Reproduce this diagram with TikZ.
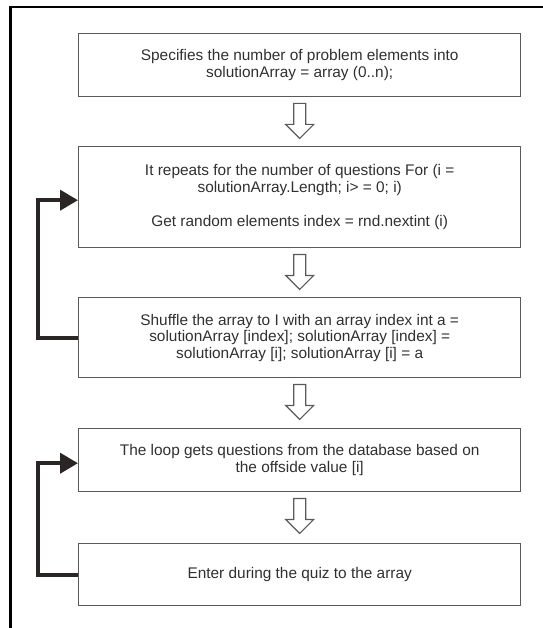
\documentclass[tikz,border=0pt]{standalone}
\usepackage{fontspec}
\setmainfont{Liberation Sans}
\usetikzlibrary{arrows.meta,calc}
\definecolor{boxline}{HTML}{5A5A5A}
\definecolor{txt}{HTML}{303030}
\definecolor{loopc}{HTML}{2B2626}
\begin{document}
\begin{tikzpicture}[x=1bp,y=-1bp,
  box/.style={draw=boxline, line width=1.4bp, rectangle, minimum width=442bp,
    anchor=north west, align=center, text=txt, inner sep=0pt,
    font=\fontsize{15.4bp}{16.6bp}\selectfont},
  harr/.style={draw=boxline, line width=1.2bp, fill=white, line join=miter},
  loopline/.style={draw=loopc, line width=4bp, line join=miter,
    -{Triangle[length=18bp,width=20bp]}},
  frame/.style={draw=black, line width=2.5bp}]
\useasboundingbox (0,0) rectangle (543,628);
\draw[frame] (10.5,628) -- (10.5,7) -- (543,7);

\node[box, minimum height=63bp] (b1) at (78,33)
  {Specifies the number of problem elements into\\ solutionArray = array (0..n);};
\node[box, minimum height=101bp] (b2) at (78,146)
  {It repeats for the number of questions For (i =\\ solutionArray.Length; i> = 0; i)\\[18bp] Get random elements index = rnd.nextint (i)};
\node[box, minimum height=80bp] (b3) at (78,297)
  {Shuffle the array to I with an array index int a =\\ solutionArray [index]; solutionArray [index] =\\ solutionArray [i]; solutionArray [i] = a};
\node[box, minimum height=63bp] (b4) at (78,428)
  {The loop gets questions from the database based on\\ the offside value [i]};
\node[box, minimum height=62bp] (b5) at (78,543)
  {Enter during the quiz to the array};

% hollow down arrows
\foreach \u in {b1,b2,b3,b4}{
  \draw[harr] ($(\u.south)+(0,6)$) ++(-6,0) -- ++(0,21) -- ++(-8,0) -- ++(14,14)
    -- ++(14,-14) -- ++(-8,0) -- ++(0,-21) -- cycle;
}

% loop-back arrows
\draw[loopline] (b3.west) -- ++(-40,0) |- ($(b2.west)+(0,3)$);
\draw[loopline] (b5.west) -- ++(-40,0) |- ($(b4.west)+(0,3)$);
\end{tikzpicture}
\end{document}
